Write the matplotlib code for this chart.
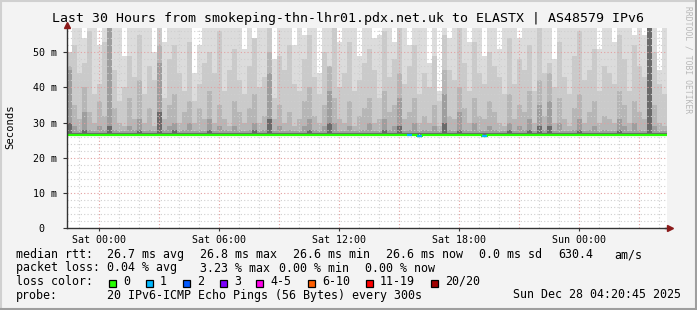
import matplotlib
matplotlib.use("Agg")
import matplotlib.pyplot as plt
from matplotlib.patches import Rectangle
from matplotlib.lines import Line2D

# time axis in hours relative to Sat 00:00, one smoke column per 15 min
t_start = -1.615
step_h = 0.25
rtt_floor = 26.3  # ms, lowest ping seen

# smoke layers (ms), outermost to innermost; 60 = off the top of the graph
smoke_max = [
    50, 60, 60, 54, 60, 60, 52, 60, 60, 60, 60, 49,
    60, 60, 60, 60, 60, 50, 60, 53, 60, 60, 60, 60,
    60, 44, 52, 60, 60, 60, 60, 60, 60, 60, 60, 51,
    60, 54, 60, 60, 60, 48, 60, 60, 60, 52, 60, 55,
    60, 60, 44, 60, 60, 60, 53, 60, 60, 60, 49, 60,
    60, 54, 55, 60, 60, 53, 60, 60, 52, 60, 60, 60,
    47, 60, 39, 60, 54, 60, 60, 60, 53, 60, 60, 49,
    60, 60, 51, 60, 60, 60, 54, 60, 60, 60, 60, 60,
    60, 48, 60, 60, 60, 60, 60, 60, 60, 60, 51, 60,
    60, 53, 60, 60, 60, 55, 60, 55, 60, 60, 45, 60,
]
smoke_p2 = [
    50, 52, 44, 47, 56, 38, 41, 53, 60, 45, 36, 40,
    49, 43, 55, 38, 46, 42, 60, 37, 48, 52, 44, 39,
    53, 36, 41, 47, 50, 44, 56, 39, 45, 51, 42, 38,
    46, 54, 40, 43, 60, 37, 49, 45, 52, 41, 39, 48,
    55, 43, 38, 50, 46, 60, 40, 44, 53, 39, 42, 47,
    51, 45, 37, 56, 43, 48, 60, 41, 46, 52, 38, 44,
    40, 49, 36, 55, 45, 42, 60, 47, 39, 53, 44, 41,
    50, 46, 43, 38, 54, 41, 48, 45, 52, 39, 60, 44,
    47, 40, 53, 43, 38, 49, 56, 42, 45, 51, 39, 46,
    44, 41, 55, 48, 39, 52, 46, 43, 60, 50, 41, 38,
]
smoke_p3 = [
    46, 35, 31, 40, 33, 30, 36, 32, 60, 34, 30, 29,
    37, 31, 42, 30, 34, 29, 52, 31, 35, 38, 30, 33,
    36, 30, 34, 31, 39, 30, 35, 31, 29, 36, 33, 30,
    34, 38, 30, 32, 50, 31, 35, 30, 33, 29, 31, 36,
    40, 32, 30, 35, 46, 37, 31, 30, 36, 29, 32, 34,
    37, 30, 31, 39, 33, 35, 44, 31, 33, 37, 30, 32,
    30, 35, 29, 45, 32, 31, 40, 34, 30, 37, 32, 31,
    36, 33, 30, 29, 38, 31, 35, 33, 39, 30, 42, 32,
    44, 30, 37, 31, 29, 34, 38, 30, 33, 36, 30, 32,
    31, 30, 39, 35, 30, 36, 33, 31, 60, 35, 30, 29,
]
smoke_p4 = [
    45, 29, 28, 33, 28, 27.5, 29, 28, 60, 28, 27.5, 27.5,
    29, 28, 31, 27.5, 28, 27.5, 47, 28, 29, 30, 27.5, 28,
    30, 27.5, 28, 27.5, 31, 27.5, 29, 28, 27.5, 29, 28, 27.5,
    28, 30, 27.5, 28, 44, 27.5, 29, 27.5, 28, 27.5, 27.5, 29,
    31, 28, 27.5, 29, 39, 30, 27.5, 27.5, 29, 27.5, 28, 28,
    30, 27.5, 27.5, 31, 28, 29, 37, 27.5, 28, 30, 27.5, 28,
    27.5, 29, 27.5, 38, 28, 27.5, 33, 28, 27.5, 30, 28, 27.5,
    29, 28, 27.5, 27.5, 30, 27.5, 29, 28, 31, 27.5, 35, 28,
    36, 27.5, 30, 27.5, 27.5, 28, 31, 27.5, 28, 29, 27.5, 28,
    27.5, 27.5, 31, 29, 27.5, 30, 28, 27.5, 60, 29, 27.5, 27.5,
]
smoke_p5 = [
    30, 27, 27, 28, 27, 27, 27, 27, 29, 27, 27, 27,
    27, 27, 28, 27, 27, 27, 33, 27, 27, 28, 27, 27,
    27, 27, 27, 27, 28, 27, 27, 27, 27, 27, 27, 27,
    27, 28, 27, 27, 31, 27, 27, 27, 27, 27, 27, 27,
    28, 27, 27, 27, 30, 27, 27, 27, 27, 27, 27, 27,
    27, 27, 27, 28, 27, 27, 29, 27, 27, 27, 27, 27,
    27, 27, 27, 30, 27, 27, 28, 27, 27, 27, 27, 27,
    27, 27, 27, 27, 28, 27, 27, 27, 28, 27, 29, 27,
    29, 27, 27, 27, 27, 27, 28, 27, 27, 27, 27, 27,
    27, 27, 28, 27, 27, 27, 27, 27, 60, 27, 27, 27,
]
median_rtt = [
    26.6, 26.6, 26.5, 26.5, 26.6, 26.6, 26.4, 26.5, 26.6, 26.4, 26.5, 26.5,
    26.6, 26.4, 26.5, 26.6, 26.6, 26.5, 26.4, 26.5, 26.6, 26.5, 26.4, 26.5,
    26.6, 26.5, 26.4, 26.6, 26.5, 26.5, 26.6, 26.4, 26.5, 26.5, 26.6, 26.5,
    26.5, 26.4, 26.6, 26.5, 26.4, 26.5, 26.6, 26.5, 26.5, 26.4, 26.6, 26.5,
    26.5, 26.6, 26.5, 26.4, 26.5, 26.6, 26.5, 26.5, 26.6, 26.5, 26.4, 26.5,
    26.6, 26.5, 26.5, 26.6, 26.5, 26.4, 26.5, 26.6, 26.4, 26.5, 26.3, 26.5,
    26.5, 26.6, 26.5, 26.5, 26.4, 26.6, 26.5, 26.5, 26.6, 26.5, 26.4, 26.3,
    26.5, 26.6, 26.5, 26.4, 26.5, 26.6, 26.5, 26.5, 26.4, 26.6, 26.5, 26.5,
    26.6, 26.5, 26.4, 26.5, 26.5, 26.6, 26.4, 26.5, 26.6, 26.5, 26.5, 26.4,
    26.5, 26.6, 26.5, 26.4, 26.5, 26.5, 26.6, 26.5, 26.5, 26.4, 26.5, 26.5,
]
lost_pings = [0] * 120
lost_pings[68] = 1
lost_pings[70] = 1
lost_pings[83] = 1

loss_labels = ["0", "1", "2", "3", "4-5", "6-10", "11-19", "20/20"]
loss_colors = ["#26ff00", "#00b8ff", "#0059ff", "#7e00ff",
               "#ff00ea", "#ff5e00", "#ff0000", "#a10000"]
smoke_colors = ["#dcdcdc", "#cacaca", "#b6b6b6", "#9e9e9e", "#6a6a6a"]

x_ticks = [0, 6, 12, 18, 24]
x_labels = ["Sat 00:00", "Sat 06:00", "Sat 12:00", "Sat 18:00", "Sun 00:00"]
y_ticks = [0, 10, 20, 30, 40, 50]
y_labels = ["0  ", "10 m", "20 m", "30 m", "40 m", "50 m"]

MONO = "DejaVu Sans Mono"
W, H = 697, 310

fig = plt.figure(figsize=(W / 100, H / 100), dpi=100, facecolor="#f3f3f3")


def fx(px):
    return px / W


def fy(py):
    return 1 - py / H


ax = fig.add_axes([fx(67), fy(228), 600 / W, 200 / H])
ax.set_facecolor("white")

n = len(smoke_max)
lefts = [t_start + i * step_h for i in range(n)]
layers = [smoke_max, smoke_p2, smoke_p3, smoke_p4, smoke_p5]
for vals, col in zip(layers, smoke_colors):
    heights = [v - rtt_floor for v in vals]
    ax.bar(lefts, heights, bottom=rtt_floor, width=step_h, align="edge",
           color=col, linewidth=0, zorder=1)

# median line, coloured by loss
rights = [l + step_h for l in lefts]
ax.step(lefts + [rights[-1]], median_rtt + [median_rtt[-1]], where="post",
        color=loss_colors[0], lw=1.6, zorder=3)
for i in range(n):
    if lost_pings[i]:
        ax.hlines(median_rtt[i], lefts[i], rights[i],
                  color=loss_colors[lost_pings[i]], lw=1.6, zorder=4)

ax.set_xlim(t_start, t_start + 30)
ax.set_ylim(0, 56.9)

# grid
for h in range(-1, 29):
    c = "#e3a0a0" if h % 3 == 0 else "#cfcfcf"
    ax.axvline(h, color=c, lw=0.8, ls=(0, (1, 2)), zorder=2)
for v in range(2, 57, 2):
    c = "#e3a0a0" if v % 10 == 0 else "#cfcfcf"
    ax.axhline(v, color=c, lw=0.8, ls=(0, (1, 2)), zorder=2)

ax.set_xticks(x_ticks)
ax.set_xticklabels(x_labels, family=MONO, fontsize=7.2)
ax.set_yticks(y_ticks)
ax.set_yticklabels(y_labels, family=MONO, fontsize=7.2)
ax.tick_params(axis="x", length=2, pad=3, color="#333333")
ax.tick_params(axis="y", length=3, pad=4, color="#333333")

for s in ["top", "right"]:
    ax.spines[s].set_visible(False)
for s in ["left", "bottom"]:
    ax.spines[s].set_color("#333333")
    ax.spines[s].set_linewidth(1)
    ax.spines[s].set_zorder(5)

# axis arrows
fig.add_artist(Line2D([fx(665), fx(670)], [fy(228), fy(228)], color="#333333", lw=1))
fig.add_artist(Line2D([fx(670)], [fy(228)], marker=">", ms=4.5, color="#8b1a1a",
                      mec="#8b1a1a", lw=0))
fig.add_artist(Line2D([fx(67)], [fy(25)], marker="^", ms=4.5, color="#8b1a1a",
                      mec="#8b1a1a", lw=0))

fig.text(fx(10), fy(127), "Seconds", rotation=90, ha="center", va="center",
         family=MONO, fontsize=7.6)

fig.text(fx(347.5), fy(18.5), "Last 30 Hours from smokeping-thn-lhr01.pdx.net.uk to ELASTX | AS48579 IPv6",
         ha="center", va="center", family=MONO, fontsize=9.5)
fig.text(fx(688), fy(60), "RRDTOOL / TOBI OETIKER", rotation=270, ha="center",
         va="center", family=MONO, fontsize=5.8, color="#b8b8b8")

# legend
fs = 8.4
row1 = [(16, "median rtt:"), (107, "26.7 ms avg"), (200, "26.8 ms max"),
        (293, "26.6 ms min"), (386, "26.6 ms now"), (479, "0.0 ms sd"),
        (558, "630.4"), (614, "am/s")]
row2 = [(16, "packet loss:"), (107, "0.04 % avg"), (200, "3.23 % max"),
        (279, "0.00 % min"), (365, "0.00 % now")]
for y, row in [(254.5, row1), (268, row2)]:
    for x, t in row:
        fig.text(fx(x), fy(y), t, ha="left", va="center", family=MONO, fontsize=fs)

fig.text(fx(16), fy(281.5), "loss color:", ha="left", va="center", family=MONO, fontsize=fs)
box_x = [108.5, 145.5, 182.5, 219.5, 256, 307.5, 365.5, 431]
for bx, lab, col in zip(box_x, loss_labels, loss_colors):
    fig.add_artist(Rectangle((fx(bx), fy(287)), 7 / W, 7 / H, facecolor=col,
                             edgecolor="black", lw=0.9))
    fig.text(fx(bx + 14.5), fy(281.5), lab, ha="left", va="center", family=MONO, fontsize=fs)

fig.text(fx(16), fy(295), "probe:", ha="left", va="center", family=MONO, fontsize=fs)
fig.text(fx(107), fy(295), "20 IPv6-ICMP Echo Pings (56 Bytes) every 300s",
         ha="left", va="center", family=MONO, fontsize=fs)
fig.text(fx(513), fy(295), "Sun Dec 28 04:20:45 2025", ha="left", va="center",
         family=MONO, fontsize=fs)

# image frame
fig.add_artist(Line2D([0, 1], [fy(0.5), fy(0.5)], color="#d0d0d0", lw=1.5))
fig.add_artist(Line2D([fx(0.5), fx(0.5)], [0, 1], color="#d0d0d0", lw=1.5))
fig.add_artist(Line2D([0, 1], [fy(309), fy(309)], color="#9e9e9e", lw=1.5))
fig.add_artist(Line2D([fx(696), fx(696)], [0, 1], color="#9e9e9e", lw=1.5))

fig.savefig("out.png", dpi=100, facecolor=fig.get_facecolor())
